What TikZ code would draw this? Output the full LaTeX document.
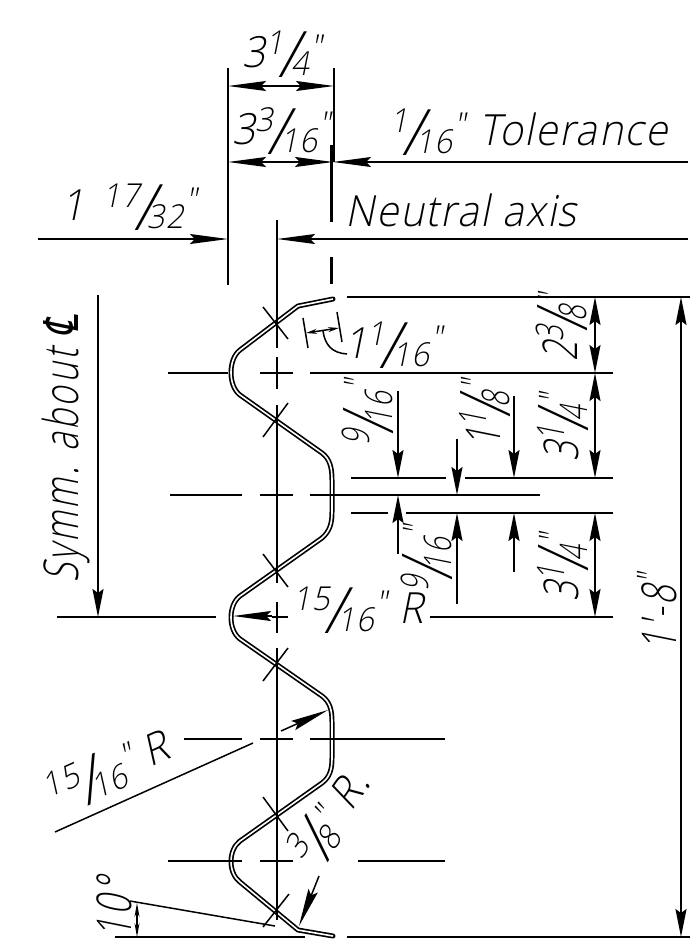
\documentclass[tikz,border=0pt]{standalone}
\usepackage{fontspec}
\usetikzlibrary{arrows.meta}
\newfontfamily\cadfont[FakeSlant=0.2,FakeStretch=0.94,LetterSpace=4]{Open Sans Light}
\newfontfamily\rotfont[FakeSlant=0.2,FakeStretch=0.72,LetterSpace=6]{Open Sans Light}
\newfontfamily\symfont[FakeSlant=0.2,FakeStretch=0.72]{DejaVu Sans}
\newcommand\cadbig{\fontsize{43}{47}\selectfont}
\def\frsm{33}\def\frsl{64}\def\frup{13pt}\def\frsd{-10pt}\def\frdn{-8pt}\def\frka{-5pt}\def\frkb{-8pt}\def\inup{9pt}
\newcommand\rotbig{\fontsize{48}{50}\selectfont\def\frsm{38}\def\frsl{70}\def\frup{14pt}\def\frsd{-10pt}\def\frdn{-9pt}\def\frka{-5pt}\def\frkb{-8pt}\def\inup{12pt}}
\newcommand\smf{\fontsize{\frsm}{\frsm}\selectfont}
\newcommand\fr[2]{\raisebox{\frup}{\smf #1}\kern\frka\raisebox{\frsd}{\fontsize{\frsl}{\frsl}\selectfont /}\kern\frkb\raisebox{\frdn}{\smf #2}}
\newcommand\inch{\kern2pt\raisebox{\inup}{\smf"}}
\tikzset{
  every node/.style={inner sep=0pt,outer sep=0pt,font=\cadfont\cadbig},
  rotlabel/.style={rotate=90,font=\rotfont\rotbig},
  thinln/.style={line width=1.5pt,line cap=butt},
  neutral/.style={line width=3pt},
  profile/.style={line width=5pt,line cap=round,line join=round},
  profilein/.style={white,line width=1.6pt,line join=round},
  hhead/.style={-{Stealth[length=38pt,width=10pt,inset=5pt]}},
  hheadb/.style={{Stealth[length=38pt,width=10pt,inset=5pt]}-{Stealth[length=38pt,width=10pt,inset=5pt]}},
  vhead/.style={-{Stealth[length=28pt,width=11pt,inset=4pt]}},
  vheadb/.style={{Stealth[length=28pt,width=11pt,inset=4pt]}-{Stealth[length=28pt,width=11pt,inset=4pt]}},
  tiny/.style={{Stealth[length=11pt,width=5pt]}-{Stealth[length=11pt,width=5pt]}}
}
\newcommand\prof{(333,299) -- (298,306) -- (240,350) .. controls (228,359) and (228,386) .. (240,395) -- (322,453) .. controls (330,459) and (332,468) .. (332,480) -- (332,512) .. controls (332,523) and (330,531) .. (322,538) -- (240,596) .. controls (228,605) and (228,630) .. (240,639) -- (322,696) .. controls (330,702) and (332,710) .. (332,722) -- (332,758) .. controls (332,769) and (330,777) .. (322,783) -- (240,841) .. controls (228,850) and (228,873) .. (240,882) -- (298,930) -- (333,936)}
\begin{document}
\begin{tikzpicture}[x=1pt,y=-1pt]
\useasboundingbox (0,0) rectangle (691,948);
\fill[white] (0,0) rectangle (691,948);
% profile
\draw[profile] \prof;
\draw[profilein] \prof;
% axis
\begin{scope}[thinln]
\draw (277,220) -- (277,348) (277,357) -- (277,389) (277,405) -- (277,583) (277,602) -- (277,633) (277,648) -- (277,920);
% horizontal centre lines
\draw (168,373) -- (228,373) (260,373) -- (293,373) (310,373) -- (613,373);
\draw (170,495) -- (242,495) (260,495) -- (293,495) (310,495) -- (540,495);
\draw (57,617) -- (216,617) (272,617) -- (288,617) (430,617) -- (613,617);
\draw (184,739) -- (242,739) (260,739) -- (293,739) (310,739) -- (445,739);
\draw (168,861) -- (242,861) (260,861) -- (293,861) (358,861) -- (445,861);
\draw (115,937) -- (305,937) (347,937) -- (690,937);
\draw (347,297) -- (690,297);
\draw (351,478) -- (446,478) (465,478) -- (613,478);
\draw (351,513) -- (388,513) (406,513) -- (613,513);
% ticks
\draw (263,307) -- (288,339);
\draw (288,403) -- (263,437);
\draw (263,554) -- (288,587);
\draw (288,648) -- (263,681);
\draw (263,797) -- (288,831);
\draw (289,894) -- (263,927);
% extension lines
\draw (228,68) -- (228,285);
\draw (334,68) -- (334,162);
% top dimensions
\draw[hheadb] (228,86) -- (334,86);
\draw[hheadb] (228,162) -- (333,162);
\draw[hhead] (688,162) -- (333,162);
\draw[hhead] (38,239) -- (228,239);
\draw[hhead] (688,239) -- (277,239);
% right dimensions
\draw[vheadb] (595,297) -- (595,373);
\draw[vheadb] (595,373) -- (595,478);
\draw[vheadb] (595,513) -- (595,617);
\draw[vheadb] (681,297) -- (681,937);
\draw[vhead] (98,295) -- (98,617);
\draw[vhead] (398,391) -- (398,478);
\draw[vhead] (398,554) -- (398,495);
\draw[vhead] (457,439) -- (457,495);
\draw[vhead] (457,604) -- (457,513);
\draw[vhead] (514,396) -- (514,478);
\draw[vhead] (514,572) -- (514,513);
% small dimension
\draw (303,318) -- (308,348) (337,312) -- (342,342);
\draw[tiny] (306,333) -- (339,328);
\draw (323,331) .. controls (325,345) and (332,353) .. (347,354);
% leaders
\draw[hhead] (272,616) -- (233,616);
\draw (55,832) -- (253,743);
\draw[hhead] (281,731) -- (328,710);
\draw[hhead] (319,876) -- (299,926);
\draw (130,901) -- (275,926);
\draw[{Stealth[length=14pt,width=5pt]}-{Stealth[length=14pt,width=5pt]}] (137,903) -- (137,937);
\end{scope}
% neutral axis
\draw[neutral] (331.5,145) -- (331.5,222) (331.5,257) -- (331.5,284);
% texts
\node (a) at (282,54) {3\fr{1}{4}\inch};
\node (b) at (281,131) {3\fr{3}{16}\inch};
\node (c) at (529,132) {\fr{1}{16}\inch\kern14pt Tolerance};
\node (d) at (461,210) {Neutral axis};
\node (e) at (129,207) {1\kern18pt\fr{17}{32}\inch};
\node[rotlabel] (f) at (66,449) {Symm. about {\symfont ℄}};
\node (g) at (393,345) {1\fr{1}{16}\inch};
\node[rotlabel] (h) at (562,328) {2\fr{3}{8}\inch};
\node[rotlabel] (i) at (563,428) {3\fr{1}{4}\inch};
\node[rotlabel] (j) at (563,568) {3\fr{1}{4}\inch};
\node[rotlabel] (k) at (368,413) {\fr{9}{16}\inch};
\node[rotlabel] (l) at (485,414) {1\fr{1}{8}\inch};
\node[rotlabel] (m) at (427,559) {\fr{9}{16}\inch};
\node[rotlabel] (n) at (657,613) {1\kern3pt'\kern3pt-\kern2pt8\inch};
\node (o) at (358,610) {\fr{15}{16}\inch\ R};
\node[rotate=24] (p) at (108,772) {\fr{15}{16}\inch\ R};
\node[rotate=55] (q) at (331,818) {\fr{3}{8}\inch\ R.};
\node[rotlabel] (r) at (114,908) {10°};
\end{tikzpicture}
\end{document}
